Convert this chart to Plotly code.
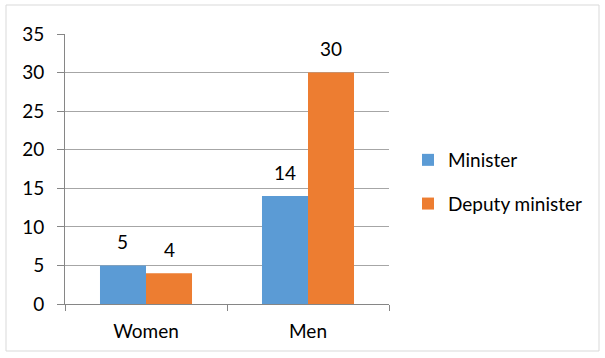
import plotly.graph_objects as go

categories = ["Women", "Men"]
series_names = ["Minister", "Deputy minister"]
minister = [5, 14]
deputy = [4, 30]
y_ticks = [0, 5, 10, 15, 20, 25, 30, 35]

colors = ["#5B9BD5", "#ED7D31"]
FONT = "Lato"
FS = 19

W, H = 605, 358
ml, mr, mt, mb = 65, 216, 34, 54
bargap = 0.432
pw = W - ml - mr
ph = H - mt - mb
cat_px = pw / len(categories)
bar_px = cat_px * (1 - bargap) / 2

fig = go.Figure()
for name, vals, c, g in zip(series_names, [minister, deputy], colors, ["a", "b"]):
    fig.add_trace(go.Bar(x=categories, y=vals, name=name, legendgroup=g,
                         marker=dict(color=c, line=dict(width=0))))

annotations = []
for i, vals in enumerate([minister, deputy]):
    shift = (i - 0.5) * bar_px
    for cat, v in zip(categories, vals):
        annotations.append(dict(x=cat, y=v, xref="x", yref="y", text=str(v), showarrow=False,
                                xshift=shift, yshift=24, yanchor="middle",
                                font=dict(family=FONT, size=FS, color="#000")))

fig.update_layout(
    width=W, height=H,
    margin=dict(l=ml, r=mr, t=mt, b=mb),
    paper_bgcolor="white", plot_bgcolor="white",
    barmode="group", bargap=bargap, bargroupgap=0,
    font=dict(family=FONT, size=FS, color="#000"),
    annotations=annotations,
    legend=dict(x=(408 - ml) / pw, y=(H - mb - 141) / ph, xanchor="left", yanchor="top",
                font=dict(family=FONT, size=FS), tracegroupgap=16, bgcolor="rgba(0,0,0,0)"),
    shapes=[dict(type="rect", xref="paper", yref="paper",
                 x0=(6 - ml) / pw, x1=(599 - ml) / pw,
                 y0=((H - mb) - 351) / ph,
                 y1=((H - mb) - 5) / ph,
                 line=dict(color="#D9D9D9", width=1), layer="below")],
    showlegend=True,
)

fig.update_xaxes(showline=True, linecolor="#868686", linewidth=1, ticks="outside",
                 tickson="boundaries", ticklen=6, tickcolor="#868686", showgrid=False,
                 tickfont=dict(family=FONT, size=FS), range=[-0.5, 1.5],
                 ticklabelstandoff=10)
fig.update_yaxes(range=[0, 35], tickvals=y_ticks, showline=True, linecolor="#868686",
                 linewidth=1, ticks="outside", ticklen=7, tickcolor="#868686",
                 showgrid=True, gridcolor="#A6A6A6", gridwidth=1, zeroline=False,
                 tickfont=dict(family=FONT, size=FS), ticklabelstandoff=9)

fig.write_html("out.html", config={"displayModeBar": False},
               post_script="document.body.style.margin='0px';")
